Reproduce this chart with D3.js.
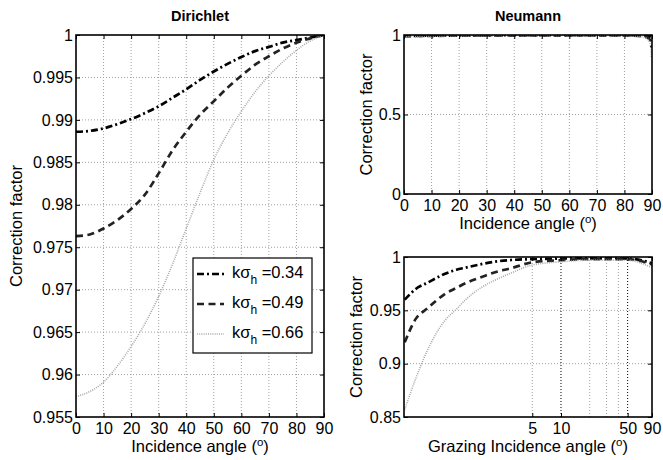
<!DOCTYPE html>
<html>
<head>
<meta charset="utf-8">
<script src="https://cdn.jsdelivr.net/npm/d3@7"></script>
<style>
  body { margin: 0; background: #fff; }
</style>
</head>
<body>
<script>
const WIDTH = 663;
const HEIGHT = 460;
const FONT = "'Liberation Sans', Arial, Helvetica, sans-serif";

// Dirichlet : correction factor vs incidence angle (deg)
const dirAngles = [0, 5, 10, 15, 20, 25, 30, 35, 40, 45, 50, 55, 60, 65, 70, 75, 80, 85, 90];
const dirK034 = [0.9886, 0.9887, 0.9890, 0.9895, 0.9901, 0.9908, 0.9916, 0.9926, 0.9936, 0.9947,
                 0.9957, 0.9966, 0.9974, 0.9981, 0.9986, 0.9991, 0.9994, 0.9997, 1.0];
const dirK049 = [0.9763, 0.9765, 0.9772, 0.9782, 0.9795, 0.9812, 0.9837, 0.9864, 0.9886, 0.9906,
                 0.9922, 0.9938, 0.9952, 0.9965, 0.9975, 0.9984, 0.9991, 0.9996, 1.0];
const dirK066 = [0.9574, 0.9580, 0.9591, 0.9610, 0.9633, 0.9660, 0.9692, 0.9730, 0.9772, 0.9814,
                 0.9853, 0.9884, 0.9910, 0.9933, 0.9952, 0.9968, 0.9982, 0.9993, 1.0];

// Neumann : correction factor vs grazing angle (deg), incidence = 90 - grazing
const grazAngles = [0.23, 0.3, 0.4, 0.6, 0.8, 1, 1.5, 2, 3, 5, 10, 20, 50, 70, 90];
const neuK034 = [0.960, 0.970, 0.976, 0.984, 0.988, 0.990, 0.9935, 0.9955, 0.9972, 0.998, 0.9985, 0.9988, 0.9985, 0.997, 0.994];
const neuK049 = [0.920, 0.942, 0.952, 0.965, 0.971, 0.9755, 0.9815, 0.9855, 0.9895, 0.995, 0.997, 0.998, 0.998, 0.996, 0.993];
const neuK066 = [0.857, 0.886, 0.913, 0.940, 0.951, 0.960, 0.972, 0.978, 0.985, 0.9925, 0.9955, 0.997, 0.997, 0.994, 0.990];

const kLabels = ["0.34", "0.49", "0.66"];
const angleTicks = [0, 10, 20, 30, 40, 50, 60, 70, 80, 90];
const dirYTicks = [0.955, 0.96, 0.965, 0.97, 0.975, 0.98, 0.985, 0.99, 0.995, 1];
const neuTopYTicks = [0, 0.5, 1];
const neuBotYTicks = [0.85, 0.9, 0.95, 1];
const grazTicks = [5, 10, 50, 90];
const grazGridMinor = [5, 20, 30, 40];
const grazGridMajor = [10, 50];

const STYLES = [
  { stroke: "#000", width: 2.7, dash: "7,3,2,3" },
  { stroke: "#222", width: 2.7, dash: "7,4.5" },
  { stroke: "#a8a8a8", width: 1.6, dash: "1,1.2" }
];

const fmt = d3.format("~g");

const svg = d3.select("body").append("svg")
  .attr("width", WIDTH).attr("height", HEIGHT)
  .style("background", "#fff");

const makePanel = (id, box, xScale, yScale, o) => {
  const g = svg.append("g").attr("id", id);
  const clipId = id + "-clip";
  svg.append("clipPath").attr("id", clipId)
    .append("rect")
    .attr("x", box.x0).attr("y", box.y0)
    .attr("width", box.x1 - box.x0).attr("height", box.y1 - box.y0);

  // grid
  const grid = g.append("g").attr("stroke-width", 1).attr("stroke-dasharray", "1,2");
  grid.selectAll("line.vx").data(o.xGrid).join("line")
    .attr("class", "vx")
    .attr("x1", d => xScale(d)).attr("x2", d => xScale(d))
    .attr("y1", box.y0).attr("y2", box.y1)
    .attr("stroke", d => (o.xGridDark || []).includes(d) ? "#000" : "#a0a0a0");
  grid.selectAll("line.hy").data(o.yGrid).join("line")
    .attr("class", "hy")
    .attr("x1", box.x0).attr("x2", box.x1)
    .attr("y1", d => yScale(d)).attr("y2", d => yScale(d))
    .attr("stroke", "#a0a0a0");

  // curves
  const curves = g.append("g").attr("clip-path", "url(#" + clipId + ")");
  o.series.forEach((pts, i) => {
    const st = STYLES[i];
    curves.append("path")
      .datum(pts)
      .attr("fill", "none")
      .attr("stroke", st.stroke)
      .attr("stroke-width", st.width)
      .attr("stroke-dasharray", st.dash)
      .attr("d", d3.line().x(d => xScale(d[0])).y(d => yScale(d[1])).curve(d3.curveMonotoneX));
  });

  // axes
  const styleAxis = sel => {
    sel.select(".domain").remove();
    sel.attr("font-size", 16).attr("font-family", FONT);
    sel.selectAll("text").attr("fill", "#000");
  };
  g.append("g").attr("transform", "translate(0," + box.y1 + ")")
    .call(d3.axisBottom(xScale).tickValues(o.xTicks).tickSizeInner(-4).tickSizeOuter(0).tickPadding(6).tickFormat(fmt))
    .call(styleAxis);
  g.append("g").attr("transform", "translate(0," + box.y0 + ")")
    .call(d3.axisTop(xScale).tickValues(o.xTicks).tickSizeInner(-4).tickSizeOuter(0).tickFormat(""))
    .call(styleAxis);
  g.append("g").attr("transform", "translate(" + box.x0 + ",0)")
    .call(d3.axisLeft(yScale).tickValues(o.yTicks).tickSizeInner(-4).tickSizeOuter(0).tickPadding(3).tickFormat(fmt))
    .call(styleAxis);
  g.append("g").attr("transform", "translate(" + box.x1 + ",0)")
    .call(d3.axisRight(yScale).tickValues(o.yTicks).tickSizeInner(-4).tickSizeOuter(0).tickFormat(""))
    .call(styleAxis);

  // box
  g.append("rect")
    .attr("x", box.x0).attr("y", box.y0)
    .attr("width", box.x1 - box.x0).attr("height", box.y1 - box.y0)
    .attr("fill", "none").attr("stroke", "#000").attr("stroke-width", 1.6);

  // labels
  if (o.title) {
    g.append("text")
      .attr("x", (box.x0 + box.x1) / 2).attr("y", 21)
      .attr("text-anchor", "middle")
      .attr("font-family", FONT).attr("font-size", 14.5).attr("font-weight", "bold")
      .text(o.title);
  }
  const xl = g.append("text")
    .attr("x", (box.x0 + box.x1) / 2).attr("y", box.y1 + 35)
    .attr("text-anchor", "middle")
    .attr("font-family", FONT).attr("font-size", 16.5);
  xl.append("tspan").text(o.xLabel + " (");
  xl.append("tspan").attr("font-size", 11.5).attr("dy", -6).text("o");
  xl.append("tspan").attr("dy", 6).text(")");

  g.append("text")
    .attr("transform", "translate(" + o.yLabelX + "," + (box.y0 + box.y1) / 2 + ") rotate(-90)")
    .attr("text-anchor", "middle")
    .attr("font-family", FONT).attr("font-size", 16.5)
    .text("Correction factor");
};

// ---- Dirichlet
const dirBox = { x0: 76, x1: 324, y0: 35, y1: 417 };
const dirX = d3.scaleLinear().domain([0, 90]).range([dirBox.x0, dirBox.x1]);
const dirY = d3.scaleLinear().domain([0.955, 1]).range([dirBox.y1, dirBox.y0]);
const dirSeries = [dirK034, dirK049, dirK066].map(arr => dirAngles.map((a, i) => [a, arr[i]]));
makePanel("dirichlet", dirBox, dirX, dirY, {
  title: "Dirichlet", xLabel: "Incidence angle", yLabelX: 22,
  xTicks: angleTicks, yTicks: dirYTicks,
  xGrid: angleTicks.slice(1, -1), yGrid: dirYTicks.slice(1, -1),
  series: dirSeries
});

// ---- Neumann, incidence angle
const topBox = { x0: 404, x1: 652, y0: 35, y1: 194 };
const topX = d3.scaleLinear().domain([0, 90]).range([topBox.x0, topBox.x1]);
const topY = d3.scaleLinear().domain([0, 1]).range([topBox.y1, topBox.y0]);
const neuAll = [neuK034, neuK049, neuK066];
const topSeries = neuAll.map(arr => grazAngles.map((g, i) => [90 - g, arr[i]]).reverse());
makePanel("neumann-top", topBox, topX, topY, {
  title: "Neumann", xLabel: "Incidence angle", yLabelX: 372,
  xTicks: angleTicks, yTicks: neuTopYTicks,
  xGrid: angleTicks.slice(1, -1), yGrid: [0.5],
  series: topSeries
});

// ---- Neumann, grazing angle (log)
const botBox = { x0: 404, x1: 652, y0: 257, y1: 417 };
const botX = d3.scaleLog().domain([0.226, 90]).range([botBox.x0, botBox.x1]);
const botY = d3.scaleLinear().domain([0.85, 1]).range([botBox.y1, botBox.y0]);
const botSeries = neuAll.map(arr => grazAngles.map((g, i) => [g, arr[i]]));
makePanel("neumann-bottom", botBox, botX, botY, {
  xLabel: "Grazing Incidence angle", yLabelX: 362,
  xTicks: grazTicks, yTicks: neuBotYTicks,
  xGrid: grazGridMinor.concat(grazGridMajor), xGridDark: grazGridMajor, yGrid: [0.9, 0.95],
  series: botSeries
});

// ---- legend
const legend = svg.append("g").attr("id", "legend");
legend.append("rect")
  .attr("x", 193).attr("y", 258).attr("width", 119).attr("height", 95)
  .attr("fill", "#fff").attr("stroke", "#000").attr("stroke-width", 1.2);
kLabels.forEach((k, i) => {
  const yb = 278 + i * 30;
  const st = STYLES[i];
  legend.append("line")
    .attr("x1", 197).attr("x2", 224).attr("y1", yb - 4).attr("y2", yb - 4)
    .attr("stroke", st.stroke).attr("stroke-width", st.width).attr("stroke-dasharray", st.dash);
  const t = legend.append("text")
    .attr("x", 232).attr("y", yb)
    .attr("font-family", FONT).attr("font-size", 16.5);
  t.append("tspan").text("k\u03c3");
  t.append("tspan").attr("font-size", 12).attr("dy", 6).text("h");
  t.append("tspan").attr("dy", -6).text(" =" + k);
});
</script>
</body>
</html>
